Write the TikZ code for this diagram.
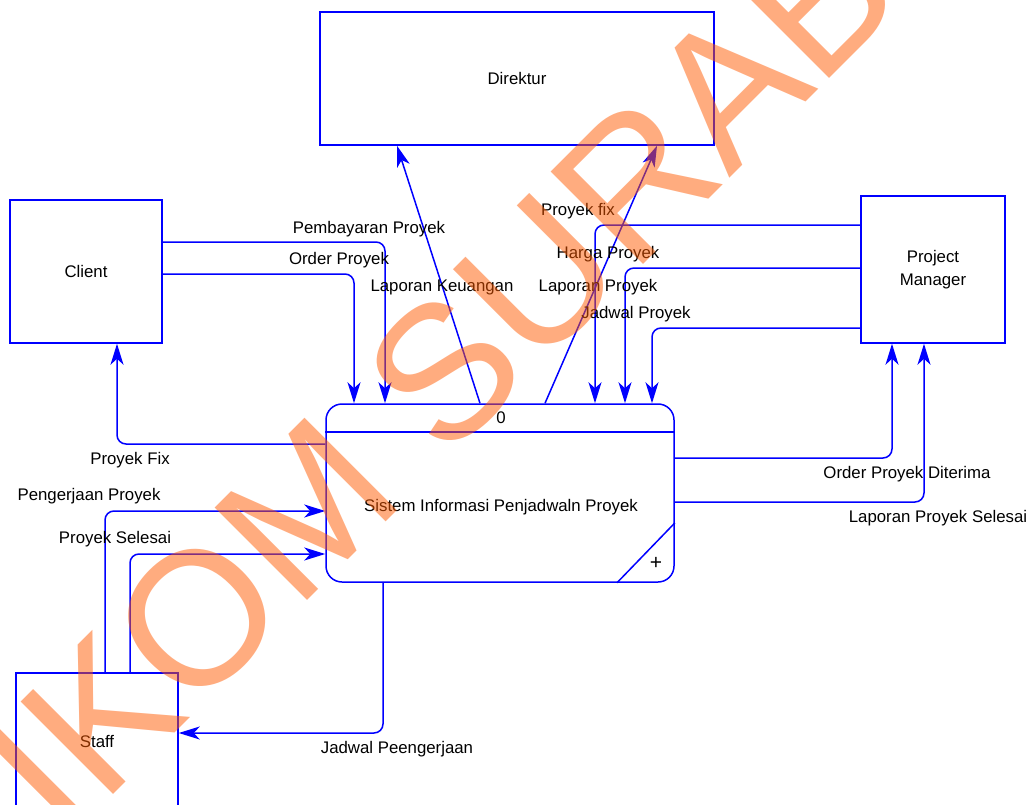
\documentclass[tikz,border=0pt]{standalone}
\usepackage{fontspec}
\setmainfont{Liberation Sans}
\usetikzlibrary{arrows.meta}
\definecolor{lineblue}{RGB}{0,0,255}
\definecolor{wmark}{RGB}{255,90,0}
\begin{document}
\begin{tikzpicture}[x=1pt,y=-1pt,
  font=\fontsize{16.8}{23}\selectfont,
  box/.style={draw=lineblue,line width=1.5pt,rectangle,inner sep=0pt,align=center},
  proc/.style={draw=lineblue,line width=1.5pt,rectangle,rounded corners=16pt,inner sep=0pt},
  flow/.style={draw=lineblue,line width=1.5pt,rounded corners=9pt,-{Stealth[length=21pt,width=13pt,inset=6pt]}},
  plain/.style={draw=lineblue,line width=1.5pt},
  lbl/.style={inner sep=0pt,anchor=center}]
\useasboundingbox (0,0) rectangle (1033,805);
\clip (0,0) rectangle (1033,805);
\fill[white] (0,0) rectangle (1033,805);

% entities
\node[box,minimum width=394pt,minimum height=133pt] (dir) at (517,78.5) {Direktur};
\node[box,minimum width=152pt,minimum height=143pt] (client) at (86,271.5) {Client};
\node[box,minimum width=144pt,minimum height=147pt] (pm) at (933,269.5) {Project\\Manager};
\node[box,minimum width=162pt,minimum height=136pt] (staff) at (97,741) {Staff};

% process
\node[proc,minimum width=348pt,minimum height=178pt] (p) at (500,493) {};
\draw[plain] (p.west |- 0,432) -- (p.east |- 0,432);
\draw[plain] (p.south -| 617,0) -- (p.east |- 0,523);
\node[lbl] (pnum) at (501,418) {0};
\node[lbl] (pname) at (501,507) {Sistem Informasi Penjadwaln Proyek};
\node[lbl] (pplus) at (656,563) {\fontsize{21}{21}\selectfont +};

% flows
\draw[flow] (client.east |- 0,242) -- (385,242) -- (p.north -| 385,0);
\draw[flow] (client.east |- 0,274) -- (354,274) -- (p.north -| 354,0);
\draw[flow] (p.north -| 480,0) -- (dir.south -| 397,0);
\draw[flow] (p.north -| 545,0) -- (dir.south -| 657,0);
\draw[flow] (pm.west |- 0,225) -- (595,225) -- (p.north -| 595,0);
\draw[flow] (pm.west |- 0,268) -- (625,268) -- (p.north -| 625,0);
\draw[flow] (pm.west |- 0,328) -- (652,328) -- (p.north -| 652,0);
\draw[flow] (p.east |- 0,458) -- (892,458) -- (pm.south -| 892,0);
\draw[flow] (p.east |- 0,502) -- (924,502) -- (pm.south -| 924,0);
\draw[flow] (p.west |- 0,444) -- (117,444) -- (client.south -| 117,0);
\draw[flow] (staff.north -| 105,0) -- (105,511) -- (p.west |- 0,511);
\draw[flow] (staff.north -| 130,0) -- (130,554) -- (p.west |- 0,554);
\draw[flow] (p.south -| 383,0) -- (383,733) -- (staff.east |- 0,733);

% labels
\node[lbl] (l1) at (369,229) {Pembayaran Proyek};
\node[lbl] (l2) at (339,260) {Order Proyek};
\node[lbl] (l3) at (442,287) {Laporan Keuangan};
\node[lbl] (l4) at (578,211) {Proyek fix};
\node[lbl] (l5) at (608,254) {Harga Proyek};
\node[lbl] (l6) at (598,287) {Laporan Proyek};
\node[lbl] (l7) at (636,314) {Jadwal Proyek};
\node[lbl] (l8) at (130,460) {Proyek Fix};
\node[lbl] (l9) at (89,496) {Pengerjaan Proyek};
\node[lbl] (l10) at (115,539) {Proyek Selesai};
\node[lbl] (l11) at (907,474) {Order Proyek Diterima};
\node[lbl] (l12) at (938,518) {Laporan Proyek Selesai};
\node[lbl] (l13) at (397,749) {Jadwal Peengerjaan};

% watermark
\node[inner sep=0pt,anchor=base west,rotate=45,text=wmark,text opacity=0.5,
  font=\fontsize{190}{190}\selectfont] (wm) at (-107,1015) {STIKOM SURABAYA};
\end{tikzpicture}
\end{document}
